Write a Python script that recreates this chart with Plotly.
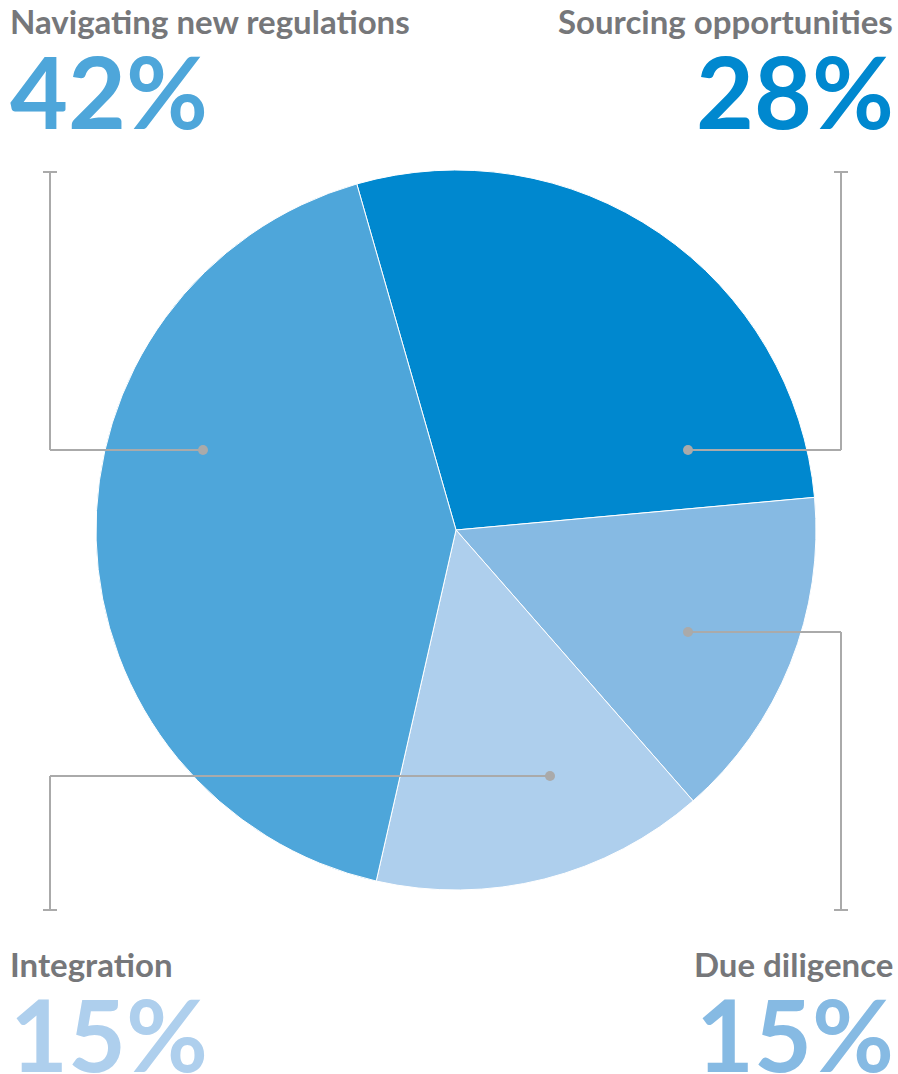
import plotly.graph_objects as go

W, H = 898, 1074

# slice data (clockwise from the top)
labels = ['Sourcing opportunities', 'Due diligence', 'Integration', 'Navigating new regulations']
shares = [28, 15, 15, 42]
colors = ['#0088cf', '#86bae3', '#aecfed', '#4ea6da']

GREY_TXT = '#76777a'
GREY_LINE = '#aaaaaa'
FONT = 'Lato'


def px(x, y):
    # pixel position -> paper coordinates
    return x / W, 1 - y / H


fig = go.Figure()
fig.add_trace(go.Pie(
    labels=labels, values=shares, sort=False, direction='clockwise',
    rotation=-16, textinfo='none', hoverinfo='label+percent',
    marker=dict(colors=colors, line=dict(color='white', width=1)),
    domain=dict(x=[96 / W, 816 / W], y=[1 - 890 / H, 1 - 170 / H]),
    showlegend=False,
))

# leader lines: (dot, elbow, end) in pixels
leaders = [
    [(203, 450), (50, 450), (50, 172)],
    [(688, 450), (841, 450), (841, 172)],
    [(688, 632), (841, 632), (841, 910)],
    [(550, 776), (50, 776), (50, 910)],
]
shapes = []
for pts in leaders:
    for (xa, ya), (xb, yb) in zip(pts[:-1], pts[1:]):
        x0, y0 = px(xa, ya)
        x1, y1 = px(xb, yb)
        shapes.append(dict(type='line', xref='paper', yref='paper', x0=x0, y0=y0, x1=x1, y1=y1,
                           line=dict(color=GREY_LINE, width=2)))
    ex, ey = pts[-1]
    x0, y0 = px(ex - 7, ey)
    x1, y1 = px(ex + 7, ey)
    shapes.append(dict(type='line', xref='paper', yref='paper', x0=x0, y0=y0, x1=x1, y1=y1,
                       line=dict(color=GREY_LINE, width=2)))
    dx, dy = pts[0]
    x0, y0 = px(dx - 5, dy - 5)
    x1, y1 = px(dx + 5, dy + 5)
    shapes.append(dict(type='circle', xref='paper', yref='paper', x0=x0, y0=y0, x1=x1, y1=y1,
                       fillcolor=GREY_LINE, line=dict(width=0)))

# titles and percentages
label_pos = {
    'Navigating new regulations': (8, -1, 'left'),
    'Sourcing opportunities': (895, -1, 'right'),
    'Integration': (8, 942, 'left'),
    'Due diligence': (895, 942, 'right'),
}
pct_pos = {
    'Navigating new regulations': (8, 28, 'left'),
    'Sourcing opportunities': (896, 28, 'right'),
    'Integration': (8, 971, 'left'),
    'Due diligence': (896, 971, 'right'),
}
annotations = []
for lab, val, col in zip(labels, shares, colors):
    x, y, xa = label_pos[lab]
    ax, ay = px(x, y)
    annotations.append(dict(text=f'<b>{lab}</b>', x=ax, y=ay, xref='paper', yref='paper',
                            xanchor=xa, yanchor='top', showarrow=False,
                            font=dict(family=FONT, size=33, color=GREY_TXT)))
    x, y, xa = pct_pos[lab]
    ax, ay = px(x, y)
    annotations.append(dict(text=f'<b>{val}%</b>', x=ax, y=ay, xref='paper', yref='paper',
                            xanchor=xa, yanchor='top', showarrow=False,
                            font=dict(family=FONT, size=100, color=col)))

fig.update_layout(
    width=W, height=H, margin=dict(l=0, r=0, t=0, b=0),
    paper_bgcolor='white', plot_bgcolor='white',
    shapes=shapes, annotations=annotations,
)

# drop the page's default body margin so the figure sits at the top-left corner
fig.write_html('out.html', config={'displayModeBar': False},
               post_script="document.body.style.margin='0';")
